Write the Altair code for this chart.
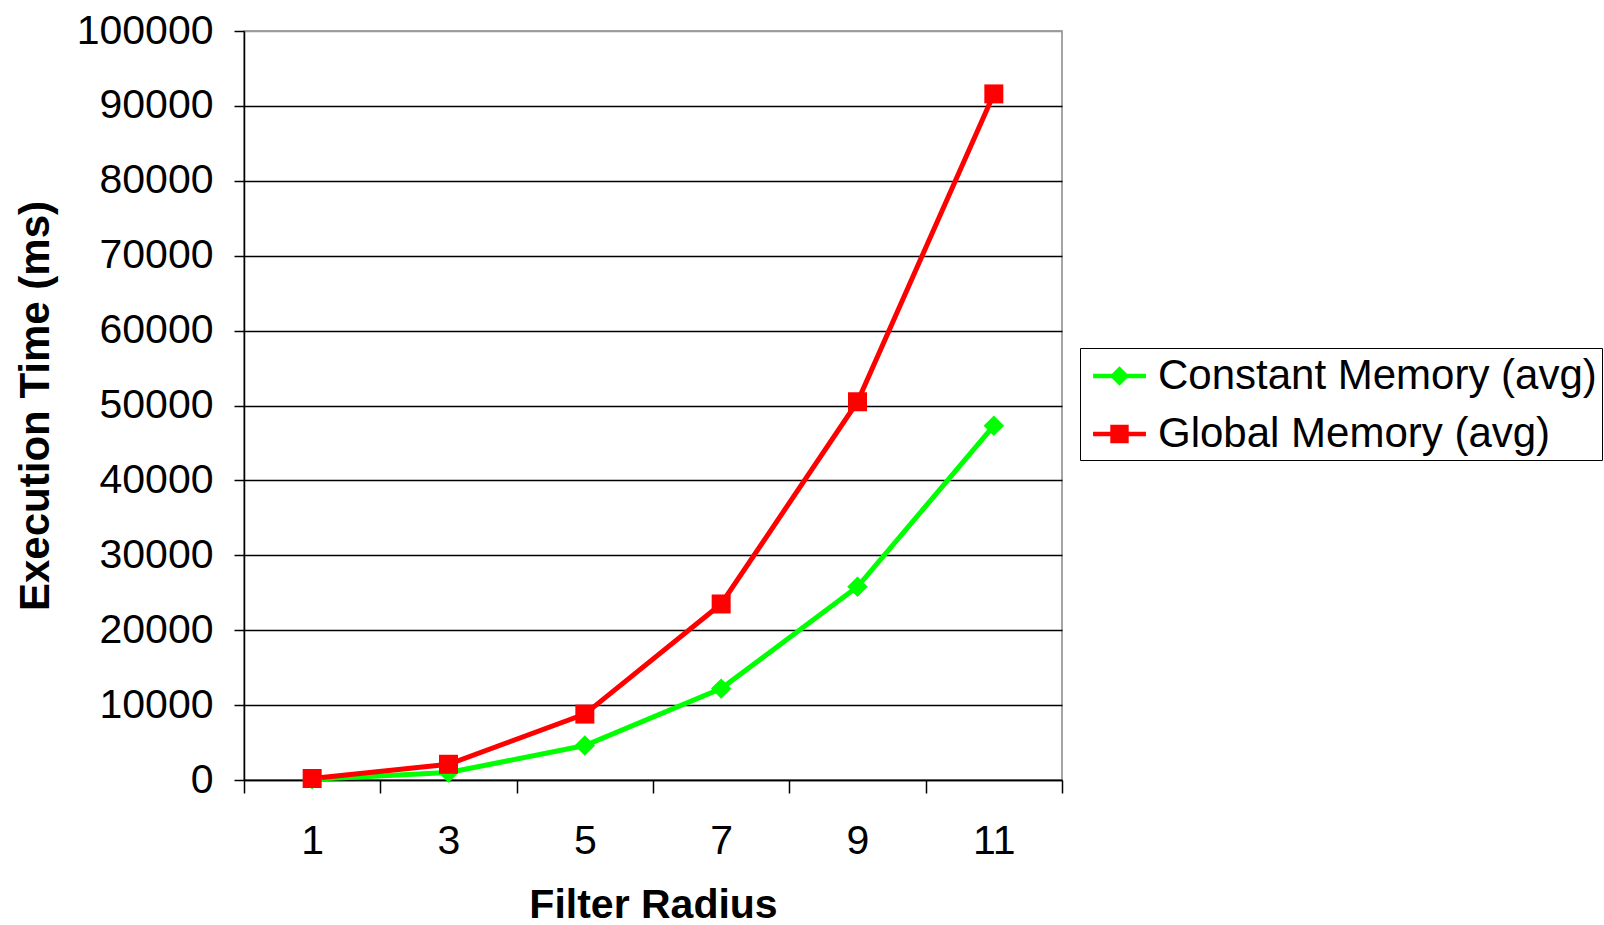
import altair as alt
import pandas as pd

# Filter radius values (x categories)
radii = [1, 3, 5, 7, 9, 11]

# Average execution time in milliseconds per implementation
constant_ms = [100, 1000, 4600, 12200, 25800, 47300]
global_ms = [200, 2100, 8800, 23500, 50500, 91600]

series_names = ["Constant Memory (avg)", "Global Memory (avg)"]
series_colors = ["#00ff00", "#ff0000"]

y_ticks = list(range(0, 100001, 10000))

rows = []
for r, c, g in zip(radii, constant_ms, global_ms):
    rows.append({"radius": r, "series": series_names[0], "ms": c})
    rows.append({"radius": r, "series": series_names[1], "ms": g})
df = pd.DataFrame(rows)

FONT = "Liberation Sans"

# legend glyphs: a short line with the series marker on it
line_path = "M-0.65,-0.1L1.65,-0.1L1.65,0.1L-0.65,0.1Z"
diamond_path = line_path + "M0.5,-0.42L0.92,0L0.5,0.42L0.08,0Z"
square_path = line_path + "M0.1,-0.4L0.9,-0.4L0.9,0.4L0.1,0.4Z"

x_enc = alt.X(
    "radius:O",
    sort=radii,
    bandPosition=0.5,
    scale=alt.Scale(type="band", paddingInner=0, paddingOuter=0),
    axis=alt.Axis(
        title="Filter Radius",
        tickBand="extent",
        labelAngle=0,
        grid=False,
        tickSize=13,
        tickWidth=1.5,
        tickColor="black",
        domainColor="black",
        domainWidth=1.5,
        labelPadding=28,
        labelFont=FONT,
        labelFontSize=41,
        labelColor="black",
        titleFont=FONT,
        titleFontSize=41,
        titleFontWeight="bold",
        titleColor="black",
        titleY=137,
        titleBaseline="alphabetic",
    ),
)

y_enc = alt.Y(
    "ms:Q",
    scale=alt.Scale(domain=[0, 100000], nice=False),
    axis=alt.Axis(
        title="Execution Time (ms)",
        values=y_ticks,
        format="d",
        grid=True,
        gridColor={
            "condition": {"test": "datum.value < 100000", "value": "black"},
            "value": "#999999",
        },
        gridWidth=1.6,
        tickSize=10,
        tickWidth=1.5,
        tickColor="black",
        domainColor="black",
        domainWidth=1.5,
        labelPadding=21,
        labelFont=FONT,
        labelFontSize=41,
        labelColor="black",
        titleFont=FONT,
        titleFontSize=42,
        titleFontWeight="bold",
        titleColor="black",
        titleX=-209,
        titleBaseline="middle",
    ),
)

legend = alt.Legend(
    title=None,
    orient="none",
    legendX=836,
    legendY=317,
    strokeColor="black",
    padding=5,
    symbolSize=2116,
    symbolStrokeWidth=0,
    rowPadding=14,
    labelOffset=27,
    labelFont=FONT,
    labelFontSize=42,
    labelColor="black",
    labelLimit=1000,
)

color_enc = alt.Color(
    "series:N",
    sort=series_names,
    scale=alt.Scale(domain=series_names, range=series_colors),
    legend=legend,
)

base = alt.Chart(df).encode(x=x_enc, y=y_enc, color=color_enc)

lines = base.mark_line(strokeWidth=5)

const_points = base.transform_filter(
    alt.datum.series == series_names[0]
).mark_point(shape="diamond", filled=True, size=420, opacity=1)

global_points = base.transform_filter(
    alt.datum.series == series_names[1]
).mark_point(shape="square", filled=True, size=361, opacity=1)

# empty layer that only feeds the legend its line-and-marker glyphs
legend_glyphs = (
    base.mark_point(filled=True, opacity=1)
    .encode(
        shape=alt.Shape(
            "series:N",
            sort=series_names,
            scale=alt.Scale(domain=series_names, range=[diamond_path, square_path]),
            legend=legend,
        )
    )
    .transform_filter("false")
)

chart = (
    alt.layer(lines, const_points, global_points, legend_glyphs)
    .properties(
        width=818,
        height=749,
        autosize="none",
        padding={"left": 244, "top": 31, "right": 542, "bottom": 145},
        background="white",
    )
    .configure_view(stroke="#888888", strokeWidth=1.5)
)

chart.save("out.html", embed_options={"renderer": "svg", "actions": False})
